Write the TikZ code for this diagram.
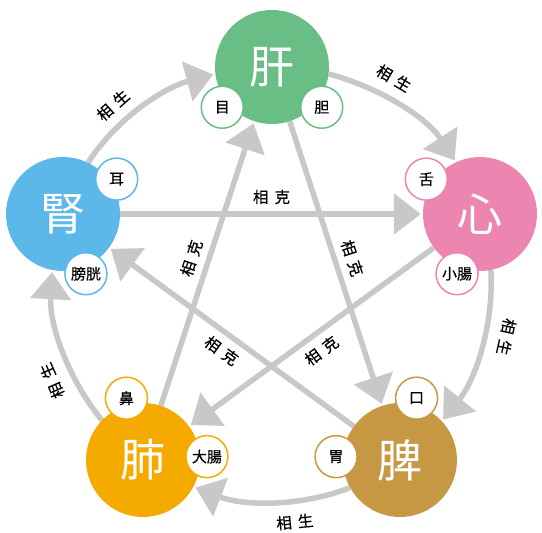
\documentclass[tikz,border=0pt]{standalone}
\usepackage{fontspec}
\setmainfont{Noto Sans CJK JP}
\newfontfamily\lblfont[FakeBold=0.4]{Noto Sans CJK JP}
\usetikzlibrary{arrows.meta,calc,backgrounds}
\definecolor{cgan}{HTML}{68BE84}
\definecolor{cxin}{HTML}{EC86B0}
\definecolor{cpi}{HTML}{C79844}
\definecolor{cfei}{HTML}{F5AA00}
\definecolor{cshen}{HTML}{5CB8E8}
\definecolor{arrowgray}{HTML}{C8C8C8}
\begin{document}
\begin{tikzpicture}[x=1pt,y=1pt,
  organ/.style={circle, minimum size=114pt, inner sep=0pt, text=white, font=\fontsize{45}{45}\selectfont},
  sub/.style={circle, minimum size=42pt, inner sep=0pt, fill=white, line width=1.5pt, text=black, font=\lblfont\fontsize{15}{15}\selectfont},
  arr/.style={draw=arrowgray, line width=5.5pt, -{Triangle[length=27pt,width=40pt]}, shorten >=2pt},
  lbl/.style={font=\lblfont\fontsize{15.5}{15.5}\selectfont, inner sep=0pt, text=black}]
\useasboundingbox (0,0) rectangle (542,533);
\coordinate (O) at (272,248);
% main organs
\node[organ, fill=cgan] (liver) at (272,466) {肝};
\node[organ, fill=cxin] (heart) at (480,319) {心};
\node[organ, fill=cpi] (spleen) at (400,73) {脾};
\node[organ, fill=cfei] (lung) at (143,73) {肺};
\node[organ, fill=cshen] (kidney) at (63,319) {腎};
% sub organs
\node[sub, draw=cgan] (eye) at ([shift={(219:64)}]liver.center) {目};
\node[sub, draw=cgan] (gall) at ([shift={(321:64)}]liver.center) {胆};
\node[sub, draw=cxin] (tongue) at ([shift={(147:64)}]heart.center) {舌};
\node[sub, draw=cxin] (sint) at ([shift={(249:64)}]heart.center) {小腸};
\node[sub, draw=cpi] (mouth) at ([shift={(75:64)}]spleen.center) {口};
\node[sub, draw=cpi] (stomach) at ([shift={(177:64)}]spleen.center) {胃};
\node[sub, draw=cfei] (lint) at ([shift={(3:64)}]lung.center) {大腸};
\node[sub, draw=cfei] (nose) at ([shift={(105:64)}]lung.center) {鼻};
\node[sub, draw=cshen] (ear) at ([shift={(33:64)}]kidney.center) {耳};
\node[sub, draw=cshen] (bladder) at ([shift={(291:64)}]kidney.center) {膀胱};
% arrows on background
\begin{scope}[on background layer]
\fill[white] (0,0) rectangle (542,533);
% sheng cycle
\draw[arr] (kidney.64.5) to[out=57,in=195,looseness=0.88] (liver.187.5);
\draw[arr] (liver.-7.5) to[out=-15,in=123,looseness=0.88] (heart.115.5);
\draw[arr] (heart.-79.5) to[out=-87,in=51,looseness=0.88] (spleen.43.5);
\draw[arr] (spleen.-151.5) to[out=-159,in=-21,looseness=0.88] (lung.-28.5);
\draw[arr] (lung.136.5) to[out=129,in=267,looseness=0.88] (kidney.259.5);
% ke cycle
\draw[arr] (kidney) -- (heart);
\draw[arr] (liver) -- (spleen);
\draw[arr] (lung) -- (liver);
\draw[arr] (spleen) -- (kidney);
\draw[arr] (heart) -- (lung);
\end{scope}
% sheng labels
\node[lbl, rotate=41.5] (s1) at ([shift={(131.5:240)}]O) {相\hspace{6pt}生};
\node[lbl, rotate=-30.5] (s2) at ([shift={(59.5:240)}]O) {相\hspace{6pt}生};
\node[lbl, rotate=-102.5] (s3) at ([shift={(-12.5:240)}]O) {相\hspace{6pt}生};
\node[lbl, rotate=5.5] (s4) at ([shift={(-84.5:238)}]O) {相\hspace{6pt}生};
\node[lbl, rotate=113.5] (s5) at ([shift={(203.5:240)}]O) {相\hspace{6pt}生};
% ke labels
\node[lbl] (k1) at ($(kidney)!0.5!(heart)!17pt!90:(heart)$) {相\hspace{6pt}克};
\node[lbl, rotate=-72] (k2) at ($(liver)!0.5!(spleen)!17pt!90:(spleen)$) {相\hspace{6pt}克};
\node[lbl, rotate=71.8] (k3) at ($(lung)!0.5!(liver)!17pt!90:(liver)$) {相\hspace{6pt}克};
\node[lbl, rotate=-36.1] (k4) at ($(spleen)!0.5!(kidney)!17pt!90:(kidney)$) {相\hspace{6pt}克};
\node[lbl, rotate=36.1] (k5) at ($(heart)!0.5!(lung)!17pt!90:(lung)$) {相\hspace{6pt}克};
\end{tikzpicture}
\end{document}
